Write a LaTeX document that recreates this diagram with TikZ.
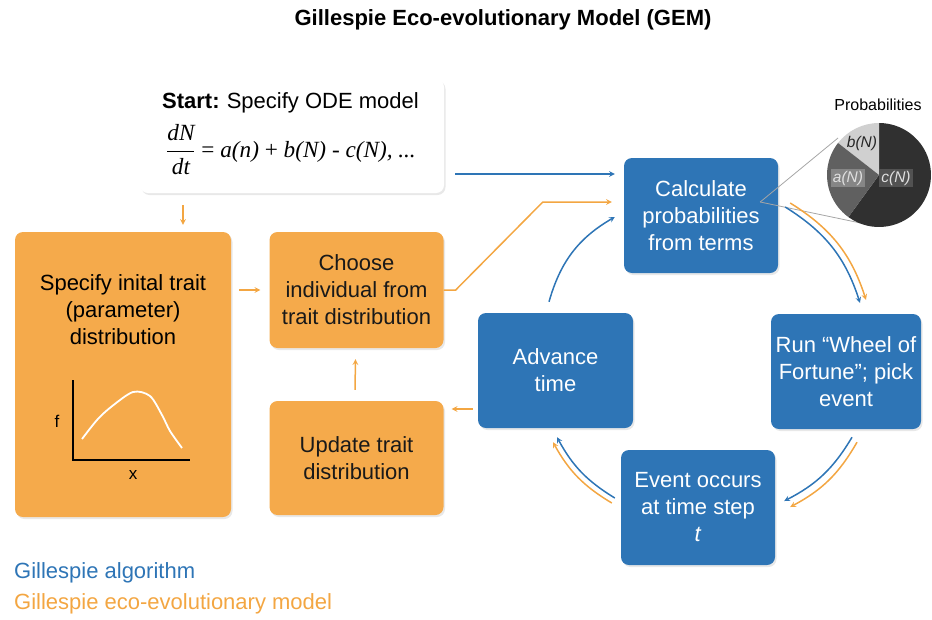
\documentclass[tikz,border=0pt]{standalone}
\usepackage{fontspec}
\setmainfont{Liberation Sans}
\newfontfamily\eqfont{Liberation Serif}
\usetikzlibrary{shapes.geometric, arrows, shadows}

\definecolor{gemblue}{RGB}{46,117,182}
\definecolor{gemorange}{RGB}{245,170,75}
\definecolor{gemline}{RGB}{243,166,66}
\definecolor{pielight}{RGB}{208,208,208}
\definecolor{piemid}{RGB}{96,96,96}
\definecolor{piedark}{RGB}{48,48,48}

\tikzstyle{bodytext} = [inner sep=0pt, align=center, font=\fontsize{22}{27}\selectfont]
\tikzstyle{startbox} = [rectangle, rounded corners=8pt, minimum width=304pt, minimum height=114pt, fill=white, drop shadow={opacity=0.18, shadow xshift=1.5pt, shadow yshift=-2pt}]
\tikzstyle{orangebox} = [rectangle, rounded corners=8pt, minimum width=174pt, minimum height=115pt, text centered, align=center, fill=gemorange, text=black!90, font=\fontsize{22}{27}\selectfont, drop shadow={opacity=0.18, shadow xshift=1.5pt, shadow yshift=-2pt}]
\tikzstyle{bluebox} = [rectangle, rounded corners=8pt, minimum width=154pt, minimum height=115pt, text centered, align=center, fill=gemblue, text=white, font=\fontsize{22}{27}\selectfont, drop shadow={opacity=0.18, shadow xshift=1.5pt, shadow yshift=-2pt}]
\tikzstyle{bluearrow} = [line width=1.5pt, ->, >=stealth, draw=gemblue]
\tikzstyle{orangearrow} = [line width=1.5pt, ->, >=stealth, draw=gemline]
\tikzstyle{pielabel} = [inner sep=2pt, font=\fontsize{15.5}{18}\selectfont\itshape]

\begin{document}
\begin{tikzpicture}[x=1pt, y=-1pt]
    \useasboundingbox (0,0) rectangle (932,619);

    % Nodes
    \node (title) [bodytext, font=\fontsize{22}{26}\selectfont\bfseries] at (503,20) {Gillespie Eco-evolutionary Model (GEM)};
    \node (start) [startbox] at (292,136) {};
    \node (starttitle) [bodytext, anchor=west] at (162,103) {\textbf{Start:}\hspace{-1pt} Specify ODE model};
    \node (odeq) [bodytext, anchor=west, font=\fontsize{23.2}{28}\selectfont] at (166,150) {\eqfont $\displaystyle\frac{\mbox{\itshape dN}}{\mbox{\itshape dt}}$ = \itshape a(n) \upshape+ \itshape b(N) \upshape- \itshape c(N), ...};
    \node (spec) [orangebox, minimum width=216pt, minimum height=285pt] at (123,374.5) {};
    \node (spectext) [bodytext] at (123,310) {Specify inital trait\\(parameter)\\distribution};
    \node (choose) [orangebox, minimum height=116pt] at (356.5,290) {Choose\\individual from\\trait distribution};
    \node (update) [orangebox, minimum height=114pt] at (356.5,458) {Update trait\\distribution};
    \node (calc) [bluebox] at (701,215.5) {Calculate\\probabilities\\from terms};
    \node (run) [bluebox, minimum width=150pt] at (846,371.5) {Run “Wheel of\\Fortune”; pick\\event};
    \node (event) [bluebox] at (698,507.5) {Event occurs\\at time step\\\textit{t}};
    \node (advance) [bluebox, minimum width=155pt] at (555.5,370.5) {Advance\\time};
    \node (legalg) [bodytext, anchor=west, text=gemblue] at (14,573) {Gillespie algorithm};
    \node (legeco) [bodytext, anchor=west, text=gemline] at (14,604) {Gillespie eco-evolutionary model};

    % Trait distribution sketch
    \draw [line width=1.8pt, black] (73,380) -- (73,460) -- (190,460);
    \draw [line width=1.8pt, white] plot[smooth] coordinates {(82,439) (97,420) (111,407) (133,392) (150,396) (162,415) (170,431) (182,448)};
    \node (flabel) [bodytext, font=\fontsize{17}{20}\selectfont] at (57,421) {f};
    \node (xlabel) [bodytext, font=\fontsize{17}{20}\selectfont] at (133,475) {x};

    % Probabilities pie
    \coordinate (pie) at (879,175);
    \draw [gray!70, line width=0.8pt] ([shift={(-18,-13.5)}]calc.east) -- ([shift={(-41,-37)}]pie);
    \draw [gray!70, line width=0.8pt] ([shift={(-18,-13.5)}]calc.east) -- ([shift={(-9,50)}]pie);
    \begin{scope}[shift={(pie)}, y=1pt]
        \fill [piedark] (0,0) -- (234:52) arc[start angle=234, end angle=450, radius=52pt] -- cycle;
        \fill [pielight] (0,0) -- (90:52) arc[start angle=90, end angle=142, radius=52pt] -- cycle;
        \fill [piemid] (0,0) -- (142:52) arc[start angle=142, end angle=234, radius=52pt] -- cycle;
    \end{scope}
    \node (probs) [bodytext, font=\fontsize{16}{19}\selectfont] at (878,105) {Probabilities};
    \node (bN) [pielabel, text=black!85] at (862,143) {b(N)};
    \node (aN) [pielabel, fill=gray!95!white, text=white!88!black] at (848,178) {a(N)};
    \node (cN) [pielabel, fill=black!68, text=white!88!black] at (896,178) {c(N)};

    % Arrows
    \draw [orangearrow] ([shift={(-109,12)}]start.south) -- ([shift={(60,-7)}]spec.north);
    \draw [orangearrow] ([shift={(8,-84.5)}]spec.east) -- ([shift={(-9,0)}]choose.west);
    \draw [orangearrow] (choose.east) -- ++(12,0) -- ([shift={(-81,-13.5)}]calc.west) -- ([shift={(-12,-13.5)}]calc.west);
    \draw [bluearrow] ([shift={(11,38)}]start.east) -- ([shift={(-9,-41.5)}]calc.west);
    \draw [orangearrow] ([shift={(-5,38.5)}]advance.west) -- ([shift={(8,-49)}]update.east);
    \draw [orangearrow] ([shift={(-1.5,-11)}]update.north) -- ([shift={(-1,11)}]choose.south);

    % Gillespie loop
    \draw [orangearrow] ([shift={(12,-12.5)}]calc.east) to[bend left=20] ([shift={(20,-14)}]run.north);
    \draw [bluearrow] ([shift={(7,-8.5)}]calc.east) to[bend left=20] ([shift={(14,-11)}]run.north);
    \draw [orangearrow] ([shift={(11,13)}]run.south) to[bend left=16] ([shift={(15,-0.5)}]event.east);
    \draw [bluearrow] ([shift={(6,8)}]run.south) to[bend left=16] ([shift={(9,-6.5)}]event.east);
    \draw [orangearrow] ([shift={(-9,-4.5)}]event.west) to[bend left=15] ([shift={(-2.5,14)}]advance.south);
    \draw [bluearrow] ([shift={(-6,-9.5)}]event.west) to[bend left=15] ([shift={(1.5,9)}]advance.south);
    \draw [bluearrow] ([shift={(-6.5,-11)}]advance.north) to[bend left=22] ([shift={(-9,1.5)}]calc.west);
\end{tikzpicture}
\end{document}
